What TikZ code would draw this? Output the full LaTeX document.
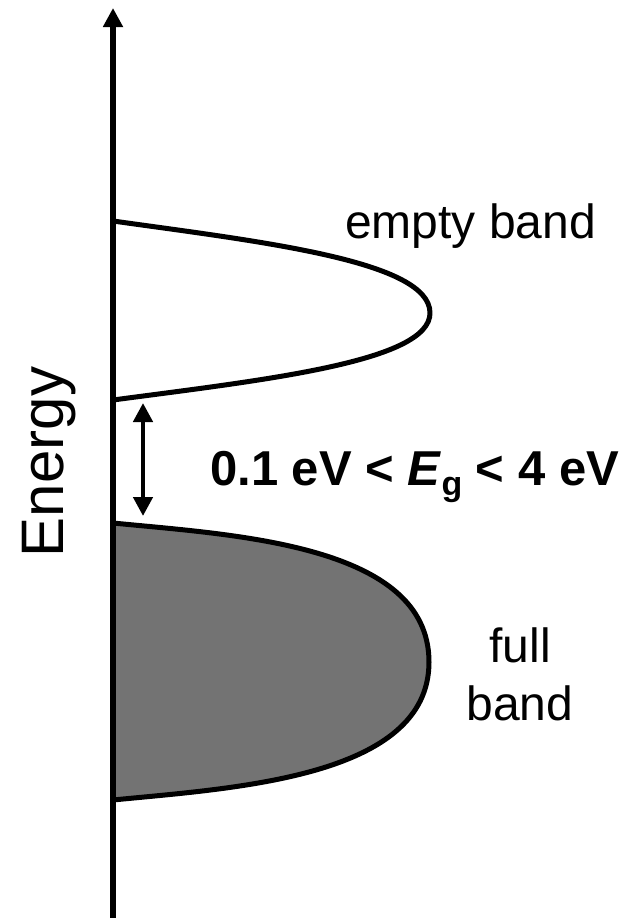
\documentclass[tikz,border=0pt]{standalone}
\usepackage{fontspec}
\setmainfont{Liberation Sans}
\usetikzlibrary{arrows.meta}
\definecolor{bandgray}{RGB}{115,115,115}
\tikzset{
  axisline/.style={line width=5.5pt, -{Triangle[width=19pt,length=19pt]}},
  gaparrow/.style={line width=4.5pt, {Triangle[width=19pt,length=19pt]}-{Triangle[width=19pt,length=19pt]}},
  bandline/.style={line width=5pt, line join=round},
  lbl/.style={inner sep=0pt, font=\fontsize{48}{58}\selectfont},
}
\begin{document}
\begin{tikzpicture}[x=1pt,y=1pt]
\useasboundingbox (0,0) rectangle (624,-918);
% empty band
\draw[bandline, fill=white]
  (113,-221) .. controls (263,-242) and (430,-261) .. (430,-313)
  .. controls (430,-362) and (263,-380) .. (113,-400) -- cycle;
% full band
\draw[bandline, fill=bandgray]
  (113,-523) .. controls (233,-535) and (429,-544) .. (429,-662)
  .. controls (429,-778) and (233,-788) .. (113,-800) -- cycle;
% axis
\coordinate (axbot) at (113,-918);
\coordinate (axtop) at (113,-8);
\draw[axisline] (axbot) -- (axtop);
% gap arrow
\coordinate (gtop) at (143,-403);
\coordinate (gbot) at (143,-516);
\draw[gaparrow] (gtop) -- (gbot);
% labels
\node[lbl, rotate=90, anchor=base, font=\fontsize{60}{60}\selectfont] (energy) at (63,-462) {Energy};
\node[lbl, anchor=base west] (empty) at (345,-238) {empty band};
\node[lbl, anchor=base west, font=\fontsize{49}{58}\selectfont\bfseries] (eg) at (210,-485)
  {0.1 eV < \textit{E}\raisebox{-10pt}{\fontsize{34}{34}\selectfont g} < 4 eV};
\node[lbl, align=center, anchor=base] (full) at (520,-720) {full\\band};
\end{tikzpicture}
\end{document}
